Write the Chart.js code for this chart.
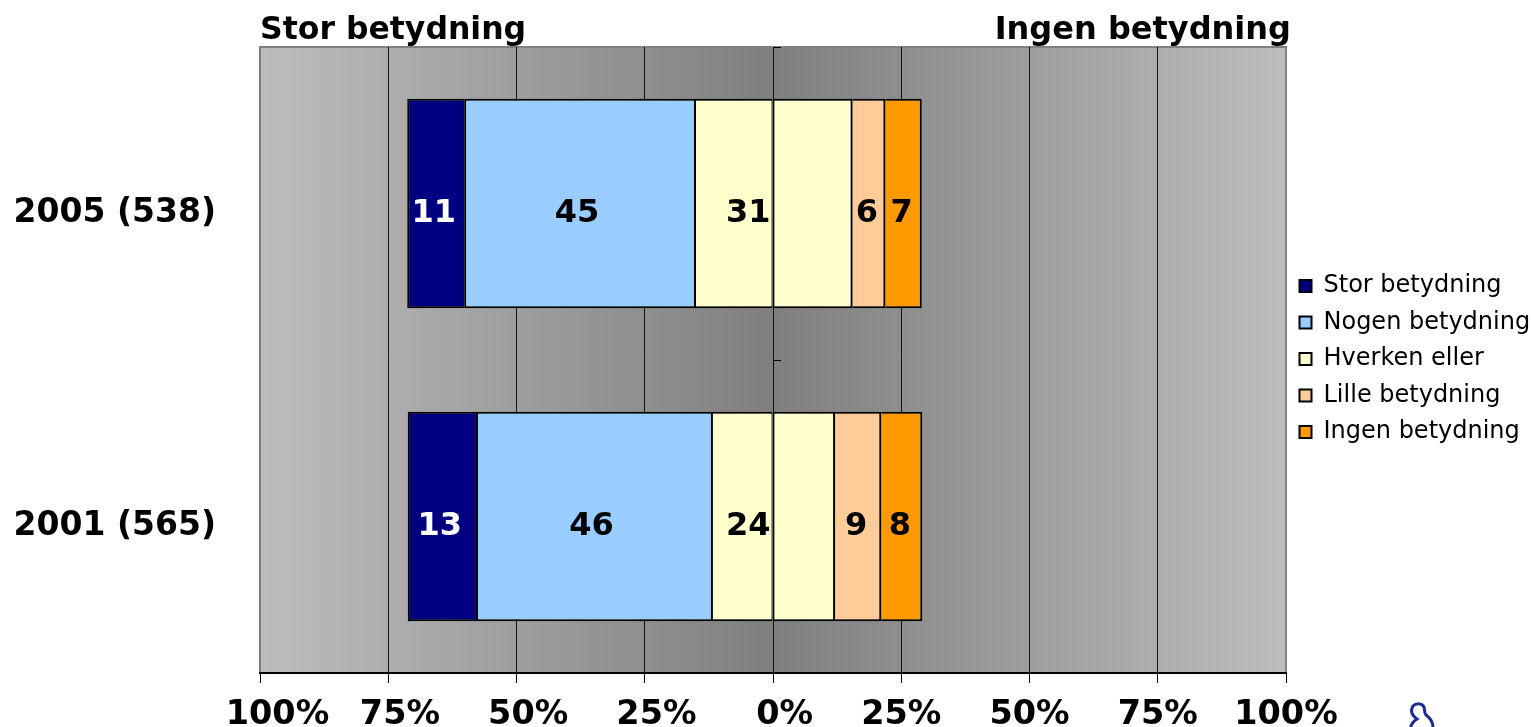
<!DOCTYPE html>
<html>
<head>
<meta charset="utf-8">
<style>
  html, body { margin: 0; padding: 0; background: #fff; }
  canvas { display: block; }
</style>
<script src="https://cdn.jsdelivr.net/npm/chart.js@4"></script>
</head>
<body>
<canvas id="chart" width="1532" height="727"></canvas>
<script>
const categories = ["2005 (538)", "2001 (565)"]
const stor = [11.1, 13.3]
const nogen = [44.8, 45.8]
const hverkenLeft = [15.4, 12.1]
const hverkenRight = [15.5, 12.1]
const lille = [6.4, 9]
const ingen = [7.1, 8]
const tickValues = [-100, -75, -50, -25, 0, 25, 50, 75, 100]
const legendOrder = ["Stor betydning", "Nogen betydning", "Hverken eller", "Lille betydning", "Ingen betydning"]

const FONT = "'DejaVu Sans'"
const negative = (list) => list.map(v => -v)

const segment = (label, data, color, left, right) => ({
  label: label,
  data: data,
  backgroundColor: color,
  borderColor: "#000",
  borderWidth: { top: 2, bottom: 2, left: left, right: right },
  borderSkipped: false,
  barPercentage: 0.67,
  categoryPercentage: 1,
  xAxisID: "x",
  yAxisID: "y"
})

// Grey band behind the plot, darkest at 0%
const plotBackground = {
  id: "plotBackground",
  beforeDraw(chart) {
    const { ctx, chartArea: a } = chart
    const g = ctx.createLinearGradient(a.left, 0, a.right, 0)
    g.addColorStop(0, "#bdbdbd")
    g.addColorStop(0.5, "#7f7f7f")
    g.addColorStop(1, "#bdbdbd")
    ctx.save()
    ctx.fillStyle = g
    ctx.fillRect(a.left, a.top, a.right - a.left, a.bottom - a.top)
    ctx.strokeStyle = "#808080"
    ctx.lineWidth = 2
    ctx.strokeRect(a.left, a.top, a.right - a.left, a.bottom - a.top)
    ctx.restore()
  }
}

// Legend sits a bit above the centre of the canvas
const legendShift = {
  id: "legendShift",
  afterLayout(chart) {
    const legend = chart.legend
    legend.top -= 28
    legend.bottom -= 28
    legend.left += 1
    legend.right += 1
    legend.adjustHitBoxes()
  }
}

// Numbers on the bars, the two headings above the plot and the cut-off logo
const barText = {
  id: "barText",
  afterDraw(chart) {
    const { ctx, chartArea: a } = chart
    ctx.save()
    ctx.font = "bold 32px " + FONT
    ctx.textBaseline = "middle"
    chart.data.datasets.forEach((ds, d) => {
      if (d === 3) return // right half of Hverken eller has no number
      chart.getDatasetMeta(d).data.forEach((bar, i) => {
        const total = d === 0 ? hverkenLeft[i] + hverkenRight[i] : Math.abs(ds.data[i])
        const text = String(Math.round(total))
        ctx.fillStyle = ds.label === "Stor betydning" ? "#fff" : "#000"
        if (d === 0) {
          ctx.textAlign = "right"
          ctx.fillText(text, bar.base - 2, bar.y + 10)
        } else {
          ctx.textAlign = "center"
          ctx.fillText(text, (bar.x + bar.base) / 2 - 2, bar.y + 10)
        }
      })
    })
    ctx.fillStyle = "#000"
    ctx.font = "bold 31.5px " + FONT
    ctx.textBaseline = "alphabetic"
    ctx.textAlign = "left"
    ctx.fillText("Stor betydning", a.left, 39)
    ctx.font = "bold 32px " + FONT
    ctx.textAlign = "right"
    ctx.fillText("Ingen betydning", a.right + 5, 39)

    ctx.strokeStyle = "#1c2c94"
    ctx.lineWidth = 3
    ctx.beginPath()
    ctx.moveTo(1411, 727)
    ctx.bezierCurveTo(1411, 723, 1414, 721, 1417, 719)
    ctx.bezierCurveTo(1412, 716, 1410, 711, 1413, 706)
    ctx.bezierCurveTo(1416, 703, 1422, 703, 1424, 707)
    ctx.bezierCurveTo(1425, 710, 1424, 713, 1426, 715)
    ctx.bezierCurveTo(1430, 718, 1433, 722, 1433, 727)
    ctx.stroke()
    ctx.restore()
  }
}

// Left-hand labels sit right of their ticks in the original, so pad them with spaces
const tickText = (v) => {
  const pad = v === -100 ? "   " : v <= 0 ? "  " : ""
  return pad + Math.abs(v) + "%"
}

new Chart(document.getElementById("chart"), {
  type: "bar",
  plugins: [plotBackground, legendShift, barText],
  data: {
    labels: categories,
    datasets: [
      segment("Hverken eller", negative(hverkenLeft), "#ffffcc", 2, 1),
      segment("Nogen betydning", negative(nogen), "#99ccff", 2, 0),
      segment("Stor betydning", negative(stor), "#000080", 2, 0),
      segment("Hverken eller", hverkenRight, "#ffffcc", 1, 2),
      segment("Lille betydning", lille, "#ffcc99", 0, 2),
      segment("Ingen betydning", ingen, "#ff9900", 0, 2)
    ]
  },
  options: {
    indexAxis: "y",
    responsive: false,
    animation: false,
    layout: { padding: { top: 47, right: 0, bottom: 0, left: 0 } },
    plugins: {
      tooltip: { enabled: false },
      legend: {
        position: "right",
        maxWidth: 246,
        labels: {
          boxWidth: 12,
          boxHeight: 12,
          padding: 12.5,
          color: "#000",
          font: { family: FONT, size: 24 },
          filter: (item) => {
            item.lineWidth = 2
            return item.datasetIndex !== 0
          },
          sort: (p, q) => legendOrder.indexOf(p.text) - legendOrder.indexOf(q.text)
        }
      }
    },
    scales: {
      x: {
        stacked: true,
        min: -100,
        max: 100,
        afterBuildTicks(axis) { axis.ticks = tickValues.map(v => ({ value: v })) },
        afterFit(axis) { axis.height = 54 },
        border: { display: true, color: "#000", width: 2 },
        grid: {
          color: (c) => Math.abs(c.tick.value) === 100 ? "#808080" : "#111",
          tickColor: "#000",
          tickLength: 10,
          lineWidth: 1
        },
        ticks: {
          autoSkip: false,
          maxRotation: 0,
          padding: 12,
          color: "#000",
          font: { family: FONT, size: 33.5, weight: "bold" },
          callback: tickText
        }
      },
      y: {
        stacked: true,
        afterFit(axis) { axis.width = 260 },
        border: { display: false },
        // tick marks are invisible, they only keep the labels away from the plot
        grid: { drawOnChartArea: false, tickColor: "transparent", tickLength: 44 },
        ticks: {
          padding: 0,
          labelOffset: 10,
          color: "#000",
          font: { family: FONT, size: 33, weight: "bold" }
        }
      },
      // Excel draws the category axis through 0%
      y2: {
        type: "category",
        position: { x: 0 },
        labels: categories,
        border: { display: false },
        grid: { offset: true, drawOnChartArea: false, tickLength: -8, tickColor: "#000" },
        ticks: { display: false }
      }
    }
  }
})
</script>
</body>
</html>
